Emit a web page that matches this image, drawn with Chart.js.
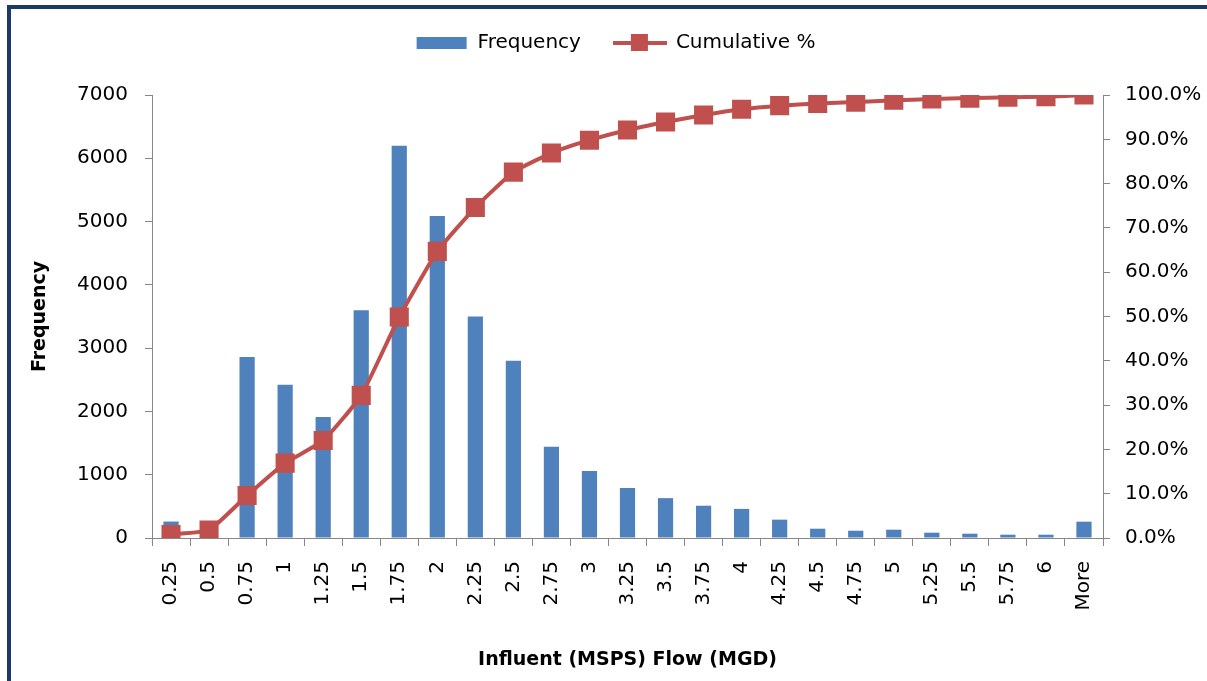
<!DOCTYPE html>
<html>
<head>
<meta charset="utf-8">
<script src="https://cdn.jsdelivr.net/npm/chart.js@4.4.0/dist/chart.umd.min.js"></script>
<style>
  html, body { margin: 0; padding: 0; background: #fff; }
  #wrap { position: relative; width: 1207px; height: 681px; overflow: hidden; }
  #frame { position: absolute; left: 7px; top: 5px; width: 1300px; height: 800px;
           border-left: 4px solid #1B3A66; border-top: 4px solid #1B3A66; pointer-events: none; }
  canvas { position: absolute; left: 0; top: 0; }
</style>
</head>
<body>
<div id="wrap">
  <canvas id="c" width="1207" height="681"></canvas>
  <div id="frame"></div>
</div>
<script>
const categories = ['0.25','0.5','0.75','1','1.25','1.5','1.75','2','2.25','2.5','2.75','3','3.25','3.5','3.75','4','4.25','4.5','4.75','5','5.25','5.5','5.75','6','More'];
const frequency = [260, 30, 2860, 2420, 1910, 3600, 6200, 5090, 3500, 2800, 1440, 1060, 790, 630, 510, 460, 290, 147, 115, 131, 84, 68, 52, 52, 258];
const cumulativePct = [0.8, 1.8, 9.6, 16.9, 22.0, 32.2, 49.9, 64.7, 74.6, 82.6, 86.9, 89.8, 92.1, 93.9, 95.5, 96.8, 97.6, 98.1, 98.4, 98.8, 99.1, 99.3, 99.5, 99.6, 100.0];
const leftTicks = [0, 1000, 2000, 3000, 4000, 5000, 6000, 7000];
const rightTicks = [0, 10, 20, 30, 40, 50, 60, 70, 80, 90, 100];

const BLUE = '#4F81BD';
const RED = '#C0504D';
const AXIS = '#868686';
const FONT = "'DejaVu Sans', sans-serif";

// legend swatches
function swatchBar() {
  const c = document.createElement('canvas'); c.width = 52; c.height = 14;
  const x = c.getContext('2d'); x.fillStyle = BLUE; x.fillRect(1, 1, 50, 12); return c;
}
function swatchLine() {
  const c = document.createElement('canvas'); c.width = 54; c.height = 18;
  const x = c.getContext('2d'); x.fillStyle = RED;
  x.fillRect(0, 7, 54, 4); x.fillRect(18, 0, 17, 17); return c;
}
const swBar = swatchBar(), swLine = swatchLine();

const legendHeight = {
  id: 'legendHeight',
  beforeInit(chart) {
    const fit = chart.legend.fit;
    chart.legend.fit = function () { fit.call(this); this.height = 95; };
  }
};

new Chart(document.getElementById('c'), {
  type: 'bar',
  data: {
    labels: categories,
    datasets: [
      {
        type: 'bar', label: 'Frequency', data: frequency, yAxisID: 'y',
        backgroundColor: BLUE, barPercentage: 0.4, categoryPercentage: 1.0, order: 2
      },
      {
        type: 'line', label: 'Cumulative %', data: cumulativePct, yAxisID: 'y1',
        borderColor: RED, backgroundColor: RED, borderWidth: 4, tension: 0.15,
        pointStyle: 'rect', pointRadius: 13.5, pointHoverRadius: 13.5,
        pointBackgroundColor: RED, pointBorderColor: RED, pointBorderWidth: 0, order: 1
      }
    ]
  },
  plugins: [legendHeight],
  options: {
    responsive: false, animation: false,
    layout: { padding: { left: 29, right: 5, top: 0, bottom: 0 } },
    plugins: {
      tooltip: { enabled: false },
      legend: {
        position: 'top',
        labels: {
          usePointStyle: true, pointStyleWidth: 52, boxHeight: 18,
          padding: 33, color: '#000',
          font: { family: FONT, size: 20 },
          sort: (a, b) => a.datasetIndex - b.datasetIndex,
          generateLabels(chart) {
            const items = Chart.defaults.plugins.legend.labels.generateLabels(chart);
            items.forEach(it => { it.pointStyle = it.datasetIndex === 0 ? swBar : swLine; });
            return items;
          }
        }
      }
    },
    scales: {
      x: {
        offset: true,
        grid: { display: true, drawOnChartArea: false, offset: true, color: AXIS, tickLength: 8, tickColor: AXIS },
        border: { display: true, color: AXIS, width: 1 },
        ticks: { color: '#000', font: { family: FONT, size: 20 }, minRotation: 90, maxRotation: 90, padding: 15, autoSkip: false },
        title: { display: true, text: 'Influent (MSPS) Flow (MGD)', color: '#000', font: { family: FONT, size: 19, weight: 'bold' }, padding: { top: 0, bottom: 10 } },
        afterFit(scale) { scale.height = 143; }
      },
      y: {
        position: 'left', min: 0, max: 7000,
        afterBuildTicks(scale) { scale.ticks = leftTicks.map(v => ({ value: v })); },
        grid: { display: true, drawOnChartArea: false, color: AXIS, tickLength: 7, tickColor: AXIS },
        border: { display: true, color: AXIS, width: 1 },
        ticks: { color: '#000', font: { family: FONT, size: 20 }, padding: 17, callback: v => String(v) },
        title: { display: true, text: 'Frequency', color: '#000', font: { family: FONT, size: 19, weight: 'bold' }, padding: 0 },
        afterFit(scale) { scale.width = 152 - 29; }
      },
      y1: {
        position: 'right', min: 0, max: 100,
        afterBuildTicks(scale) { scale.ticks = rightTicks.map(v => ({ value: v })); },
        grid: { display: true, drawOnChartArea: false, color: AXIS, tickLength: 7, tickColor: AXIS },
        border: { display: true, color: AXIS, width: 1 },
        ticks: { color: '#000', font: { family: FONT, size: 20 }, padding: 15, callback: v => v.toFixed(1) + '%' },
        afterFit(scale) { scale.width = 1207 - 5 - 1103; }
      }
    }
  }
});
</script>
</body>
</html>
